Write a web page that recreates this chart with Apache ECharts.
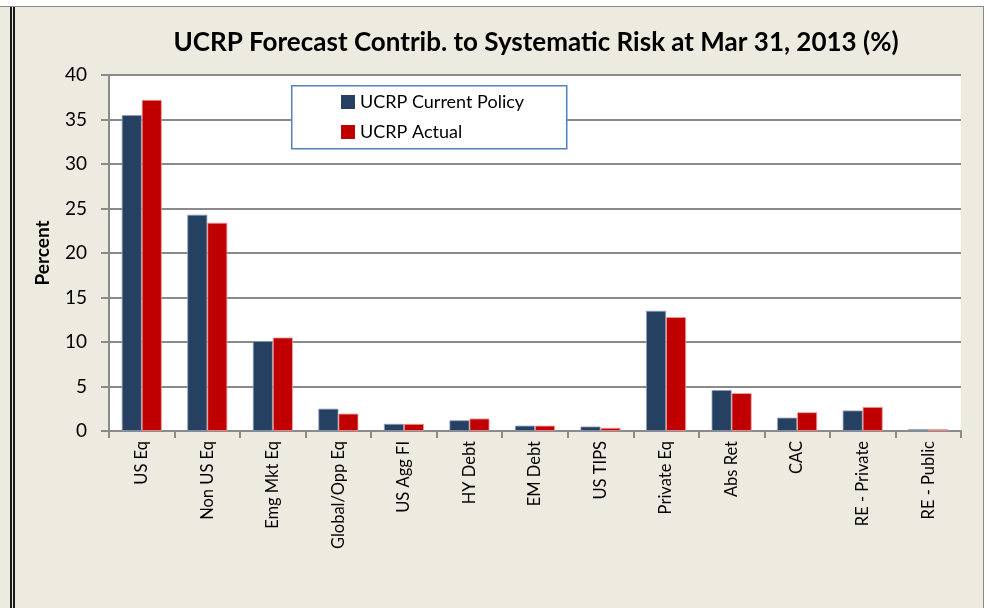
<!DOCTYPE html>
<html>
<head>
<meta charset="utf-8">
<script src="https://cdn.jsdelivr.net/npm/echarts@6/dist/echarts.min.js"></script>
<style>
  html, body { margin: 0; padding: 0; background: #fff; }
  #frame {
    position: absolute; left: 0; top: 6px; width: 983px; height: 602px;
    background: #EDEADF; border-top: 1px solid #8a8a8a; border-right: 1px solid #8a8a8a;
  }
  #rule {
    position: absolute; left: 10px; top: 0; width: 0; height: 602px;
    border-left: 5px double #1a1a1a;
  }
  #chart { position: absolute; left: 0; top: -7px; width: 987px; height: 608px; }
</style>
</head>
<body>
<div id="frame"><div id="rule"></div><div id="chart"></div></div>
<script>
const categories = ['US Eq', 'Non US Eq', 'Emg Mkt Eq', 'Global/Opp Eq', 'US Agg FI', 'HY Debt',
  'EM Debt', 'US TIPS', 'Private Eq', 'Abs Ret', 'CAC', 'RE - Private', 'RE - Public'];
const currentPolicy = [35.5, 24.3, 10.1, 2.5, 0.8, 1.2, 0.6, 0.5, 13.5, 4.6, 1.5, 2.3, 0.2];
const actual = [37.2, 23.4, 10.5, 1.95, 0.8, 1.4, 0.6, 0.35, 12.8, 4.25, 2.1, 2.7, 0.2];
const yTicks = [0, 5, 10, 15, 20, 25, 30, 35, 40];

const font = 'Lato';
const myChart = echarts.init(document.getElementById('chart'));

const option = {
  backgroundColor: 'transparent',
  animation: false,
  title: {
    text: 'UCRP Forecast Contrib. to Systematic Risk at Mar 31, 2013 (%)',
    left: 531, top: 25, textAlign: 'center',
    textStyle: { fontFamily: font, fontWeight: 'bold', fontSize: 26, color: '#000' }
  },
  graphic: [{
    type: 'rect', left: 291, top: 85, z: 5,
    shape: { width: 275, height: 63 },
    style: { fill: '#fff', stroke: '#4F81BD', lineWidth: 1.5 }
  }],
  legend: {
    orient: 'vertical', left: 341, top: 93, z: 10, padding: 0,
    itemWidth: 14, itemHeight: 14, itemGap: 12,
    icon: 'rect',
    itemStyle: { borderWidth: 0 },
    textStyle: { fontFamily: font, fontSize: 18, color: '#000' },
    data: ['UCRP Current Policy', 'UCRP Actual']
  },
  grid: { left: 109, right: 26, top: 75, bottom: 177, backgroundColor: '#fff', show: true, borderWidth: 0 },
  xAxis: {
    type: 'category', data: categories,
    axisLine: { lineStyle: { color: '#8a8a8a', width: 2 } },
    axisTick: { show: true, length: 7, lineStyle: { color: '#8a8a8a', width: 2 } },
    axisLabel: { rotate: 90, interval: 0, margin: 10, fontFamily: font, fontSize: 16.5, color: '#000' }
  },
  yAxis: {
    type: 'value', min: yTicks[0], max: yTicks[yTicks.length - 1], interval: 5,
    name: 'Percent', nameLocation: 'middle', nameGap: 57, nameRotate: 90,
    nameTextStyle: { fontFamily: font, fontWeight: 'bold', fontSize: 19, color: '#000' },
    axisLine: { show: true, lineStyle: { color: '#8a8a8a', width: 2 } },
    axisTick: { show: true, length: 8, lineStyle: { color: '#8a8a8a', width: 2 } },
    splitLine: { lineStyle: { color: '#8a8a8a', width: 2 } },
    axisLabel: { margin: 22, fontFamily: font, fontSize: 19, color: '#000' }
  },
  series: [
    {
      name: 'UCRP Current Policy', type: 'bar', data: currentPolicy,
      barGap: '0%', barCategoryGap: '39%',
      itemStyle: { color: '#254061', borderColor: '#8ea0b8', borderWidth: 0.8 }
    },
    {
      name: 'UCRP Actual', type: 'bar', data: actual,
      itemStyle: { color: '#C00000', borderColor: '#f0a0a0', borderWidth: 0.8 }
    }
  ]
};

myChart.setOption(option);
</script>
</body>
</html>
